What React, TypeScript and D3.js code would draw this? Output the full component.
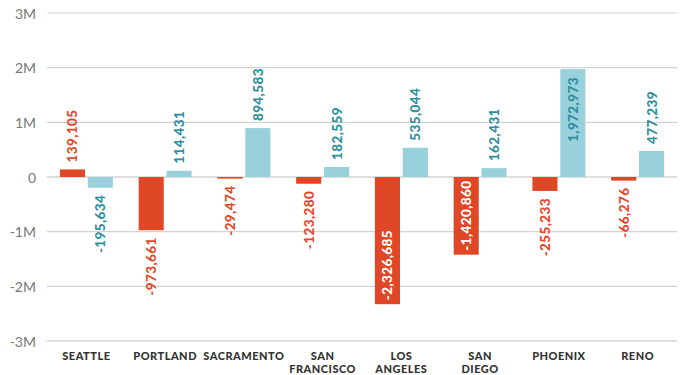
import React from "react";
import * as d3 from "d3";

const categories = [["SEATTLE"], ["PORTLAND"], ["SACRAMENTO"], ["SAN", "FRANCISCO"], ["LOS", "ANGELES"], ["SAN", "DIEGO"], ["PHOENIX"], ["RENO"]];
const seriesA = [139105, -973661, -29474, -123280, -2326685, -1420860, -255233, -66276];
const seriesB = [-195634, 114431, 894583, 182559, 535044, 162431, 1972973, 477239];
const yTicks = [3e6, 2e6, 1e6, 0, -1e6, -2e6, -3e6];
const yTickLabels = ["3M", "2M", "1M", "0", "-1M", "-2M", "-3M"];

const W = 681, H = 375;
const RED = "#e04726", BLUE = "#98d1dc";
const RED_TXT = "#e4482b", TEAL_TXT = "#2f8e9c";
const fmt = (v: number) => d3.format(",")(v).replace("\u2212", "-");

export default function App() {
  const keys = categories.map((c) => c.join(" "));
  const x0 = d3.scaleBand<string>().domain(keys).range([47, 677]);
  const x1 = d3.scaleBand<string>().domain(["a", "b"]).range([12.9, 65.9]).paddingInner(0.1);
  const y = d3.scaleLinear().domain([-3e6, 3e6]).range([341, 13]);
  const fontFam = "Lato, 'Open Sans', sans-serif";
  const series = [
    { key: "a", values: seriesA, fill: RED, txt: RED_TXT },
    { key: "b", values: seriesB, fill: BLUE, txt: TEAL_TXT },
  ];
  return (
    <div style={{ position: "fixed", left: 0, top: 0, width: W, height: H, background: "#fff" }}>
      <svg width={W} height={H} style={{ display: "block", fontFamily: fontFam }}>
        {yTicks.map((t, i) => (
          <g key={t}>
            <line x1={47} x2={677} y1={y(t)} y2={y(t)} stroke={t === 0 || i === yTicks.length - 1 ? "#bdbdbd" : "#d3d3d3"} strokeWidth={1.2} />
            <text x={36} y={y(t)} textAnchor="end" dominantBaseline="central" fontSize={14} fill="#777">{yTickLabels[i]}</text>
          </g>
        ))}
        {series.map((s) =>
          s.values.map((v, i) => {
            const bx = (x0(keys[i]) as number) + (x1(s.key) as number);
            const bw = x1.bandwidth();
            const y0 = y(0), yv = y(v);
            const top = Math.min(y0, yv), h = Math.abs(yv - y0);
            const cx = bx + bw / 2;
            const label = fmt(v);
            const inside = h > 70;
            let ty: number, anchor: string, color = s.txt;
            if (inside) {
              if (v < 0) { ty = yv - 4; anchor = "start"; color = s.key === "a" ? "#fff" : s.txt; }
              else { ty = yv + 8; anchor = "end"; color = s.key === "a" ? "#fff" : s.txt; }
            } else {
              if (v < 0) { ty = yv + 7; anchor = "end"; }
              else { ty = yv - 7; anchor = "start"; }
            }
            return (
              <g key={s.key + i}>
                <rect x={bx} y={top} width={bw} height={Math.max(h, 1)} fill={s.fill} />
                <text
                  transform={`translate(${cx},${ty}) rotate(-90)`}
                  textAnchor={anchor}
                  dominantBaseline="central"
                  fontSize={13.5}
                  fontWeight={900}
                  letterSpacing={0.4}
                  fill={color}
                >{label}</text>
              </g>
            );
          })
        )}
        {categories.map((lines, i) => {
          const cx = (x0(keys[i]) as number) + x0.bandwidth() / 2;
          return (
            <text key={keys[i]} x={cx} y={360} textAnchor="middle" fontSize={11} fontWeight={900} letterSpacing={0.5} fill="#333">
              {lines.map((l, j) => (
                <tspan key={j} x={cx} dy={j === 0 ? 0 : 12.5}>{l}</tspan>
              ))}
            </text>
          );
        })}
      </svg>
    </div>
  );
}
